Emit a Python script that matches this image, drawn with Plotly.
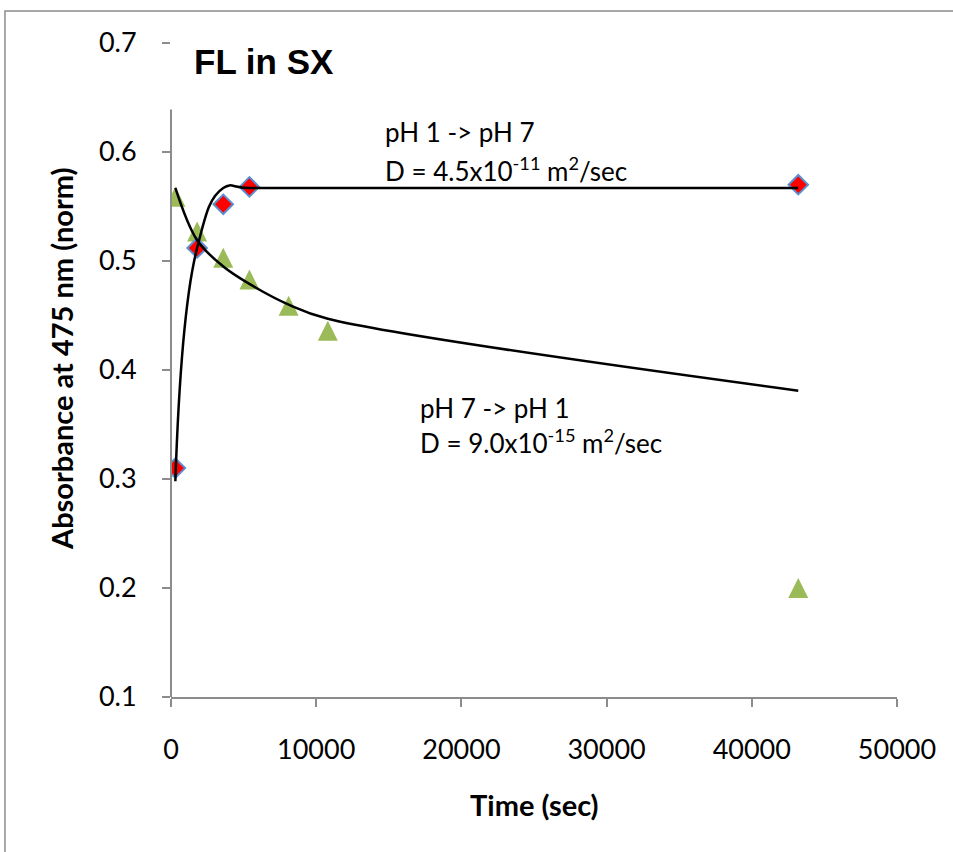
import plotly.graph_objects as go

# Data (time in seconds, normalized absorbance at 475 nm)
t_up = [300, 1800, 3600, 5400, 43200]
abs_up = [0.31, 0.512, 0.552, 0.568, 0.570]

t_down = [300, 1800, 3600, 5400, 8100, 10800, 43200]
abs_down = [0.559, 0.527, 0.503, 0.483, 0.459, 0.436, 0.200]

# Fitted model curves
fit_up_t = [300, 1800, 3600, 5400, 43200]
fit_up_y = [0.298, 0.512, 0.567, 0.567, 0.567]

fit_down_t = [300, 1800, 3600, 5400, 8100, 10800, 43200]
fit_down_y = [0.567, 0.519, 0.495, 0.479, 0.460, 0.447, 0.381]

x_ticks = [0, 10000, 20000, 30000, 40000, 50000]
y_ticks = [0.1, 0.2, 0.3, 0.4, 0.5, 0.6, 0.7]

FONT = "Lato"
AX = "#8c8c8c"

fig = go.Figure()

# near-equilateral up-pointing triangle: arrow-down glyph rotated 180 and centred via standoff
fig.add_trace(go.Scatter(
    x=t_down, y=abs_down, mode="markers",
    marker=dict(symbol="arrow-down", size=20, angle=180, standoff=10,
                color="#9bbb59", line=dict(width=0)),
    showlegend=False))
fig.add_trace(go.Scatter(
    x=t_up, y=abs_up, mode="markers",
    marker=dict(symbol="diamond", size=15, color="#ff0000", line=dict(width=2, color="#5b8fd0")),
    showlegend=False))
fig.add_trace(go.Scatter(
    x=fit_up_t, y=fit_up_y, mode="lines",
    line=dict(color="black", width=2.5, shape="spline", smoothing=1.2),
    showlegend=False))
fig.add_trace(go.Scatter(
    x=fit_down_t, y=fit_down_y, mode="lines",
    line=dict(color="black", width=2.5, shape="spline", smoothing=1.0),
    showlegend=False))

# y axis line (partially hidden at top in reference)
fig.add_shape(type="line", xref="paper", yref="y", x0=0, x1=0, y0=0.1, y1=0.639,
              line=dict(color=AX, width=2))
# outer chart border
fig.add_shape(type="rect", xref="paper", yref="paper",
              x0=-0.2287, x1=1.3, y0=-0.5, y1=1.0489,
              line=dict(color=AX, width=1.5), fillcolor="rgba(0,0,0,0)")

ann_font = dict(family=FONT, size=26, color="black")
fig.add_annotation(x=1450, y=0.6826, xref="x", yref="y", text="<b>FL in SX</b>",
                   showarrow=False, xanchor="left", yanchor="middle",
                   font=dict(family="Liberation Sans", size=35, color="black"))
fig.add_annotation(x=14600, y=0.618, text="pH 1 -> pH 7", showarrow=False,
                   xanchor="left", yanchor="middle", font=ann_font)
fig.add_annotation(x=14600, y=0.584, text="D = 4.5x10<sup>-11</sup> m<sup>2</sup>/sec",
                   showarrow=False, xanchor="left", yanchor="middle", font=ann_font)
fig.add_annotation(x=17000, y=0.365, text="pH 7 -> pH 1", showarrow=False,
                   xanchor="left", yanchor="middle", font=ann_font)
fig.add_annotation(x=17000, y=0.334, text="D = 9.0x10<sup>-15</sup> m<sup>2</sup>/sec",
                   showarrow=False, xanchor="left", yanchor="middle", font=ann_font)

# axis titles
fig.add_annotation(x=0.5, y=-0.165, xref="paper", yref="paper", text="<b>Time (sec)</b>",
                   showarrow=False, xanchor="center", yanchor="middle",
                   font=dict(family=FONT, size=29, color="black"))
fig.add_annotation(x=-0.150, y=0.517, xref="paper", yref="paper",
                   text="<b>Absorbance at 475 nm (norm)</b>", textangle=-90,
                   showarrow=False, xanchor="center", yanchor="middle",
                   font=dict(family=FONT, size=29, color="black"))

fig.update_layout(
    width=953, height=852,
    margin=dict(l=171, r=56, t=43, b=155),
    paper_bgcolor="white", plot_bgcolor="white",
    font=dict(family=FONT, size=24, color="black"),
    xaxis=dict(range=[0, 50000], tickvals=x_ticks, ticktext=[str(v) for v in x_ticks],
               showgrid=False, zeroline=False, showline=True, linecolor=AX, linewidth=2,
               ticks="outside", ticklen=8, tickwidth=2, tickcolor=AX,
               ticklabelstandoff=20,
               tickfont=dict(family=FONT, size=27)),
    yaxis=dict(range=[0.1, 0.7], tickvals=y_ticks, ticktext=[f"{v:.1f}" for v in y_ticks],
               showgrid=False, zeroline=False, showline=False,
               ticks="outside", ticklen=8, tickwidth=2, tickcolor=AX,
               ticklabelstandoff=20,
               tickfont=dict(family=FONT, size=27)),
)

fig.write_html("out.html")
